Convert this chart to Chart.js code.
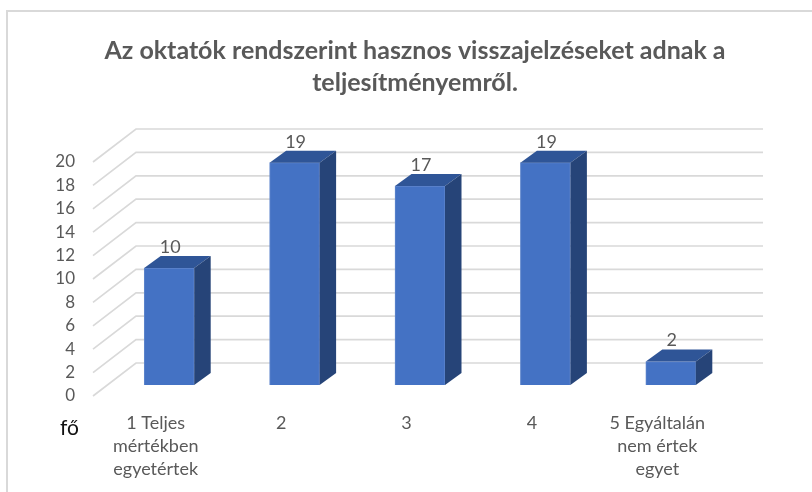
<!DOCTYPE html>
<html><head><meta charset="utf-8">
<style>html,body{margin:0;padding:0;background:#fff}#w{position:absolute;left:0;top:0;width:812px;height:492px}</style>
<script src="https://cdn.jsdelivr.net/npm/chart.js@4"></script>
</head><body><div id="w"><canvas id="c" width="812" height="492"></canvas></div>
<script>
const titleLines = ["Az oktatók rendszerint hasznos visszajelzéseket adnak a", "teljesítményemről."];
const categories = [["1 Teljes","mértékben","egyetértek"],"2","3","4",["5 Egyáltalán","nem értek","egyet"]];
const values = [10,19,17,19,2];
const yTicksMax = 20, yTicksStep = 2;
const unitLabel = "fő";
const depth = {wallX:43, wallY:33, barOffX:13.5, barOffY:11, barX:16.5, barY:12};
const wallRight = 763;
const grey = "#595959";
const font = "Lato, Carlito, 'Open Sans', sans-serif";

const threeD = {
  id:"threeD",
  beforeDraw(ch){
    const c=ch.ctx; c.save();
    c.strokeStyle="#d9d9d9"; c.lineWidth=2;
    c.beginPath(); c.moveTo(7,492); c.lineTo(7,11); c.lineTo(812,11); c.stroke();
    c.restore();
  },
  beforeDatasetsDraw(ch){
    const c=ch.ctx, y=ch.scales.y, L=ch.chartArea.left;
    c.save(); c.strokeStyle="#d9d9d9"; c.lineWidth=1.7;
    y.ticks.forEach(t=>{
      const p=y.getPixelForValue(t.value);
      c.beginPath(); c.moveTo(L,p); c.lineTo(L+depth.wallX,p-depth.wallY); c.lineTo(wallRight,p-depth.wallY); c.stroke();
    });
    c.restore();
    c.save(); c.translate(depth.barOffX,-depth.barOffY);
  },
  afterDatasetsDraw(ch){
    const c=ch.ctx, m=ch.getDatasetMeta(0);
    m.data.forEach((b,i)=>{
      const l=b.x-b.width/2, r=b.x+b.width/2, t=b.y, bs=b.base;
      c.fillStyle="#2F5597";
      c.beginPath(); c.moveTo(l,t); c.lineTo(l+depth.barX,t-depth.barY); c.lineTo(r+depth.barX,t-depth.barY); c.lineTo(r,t); c.closePath(); c.fill();
      c.fillStyle="#264478";
      c.beginPath(); c.moveTo(r,t); c.lineTo(r+depth.barX,t-depth.barY); c.lineTo(r+depth.barX,bs-depth.barY); c.lineTo(r,bs); c.closePath(); c.fill();
      c.fillStyle=grey; c.font="18px "+font; c.textAlign="center"; c.textBaseline="middle";
      c.fillText(String(values[i]), b.x+1, t-depth.barY-9);
    });
    c.restore();
    c.save(); c.fillStyle="#111"; c.font="21px "+font; c.textAlign="left"; c.textBaseline="middle";
    c.fillText(unitLabel, 60, 428); c.restore();
  }
};

new Chart(document.getElementById("c"),{
  type:"bar",
  data:{labels:categories,datasets:[{data:values,backgroundColor:"#4472C4",borderColor:"#5f86cc",borderWidth:1,barThickness:50}]},
  plugins:[threeD],
  options:{
    responsive:false,animation:false,
    layout:{padding:{left:18,right:0,top:0,bottom:0}},
    plugins:{legend:{display:false},tooltip:{enabled:false},
      title:{display:true,text:titleLines,color:grey,font:{family:font,size:25,weight:"bold",lineHeight:32/25},padding:{top:35,bottom:63}}},
    scales:{
      x:{grid:{display:false},border:{display:false},
         ticks:{color:grey,font:{family:font,size:18,lineHeight:23/18},maxRotation:0,minRotation:0,autoSkip:false,padding:8},
         afterFit(s){s.height=96;}},
      y:{min:0,max:yTicksMax,grid:{display:false},border:{display:false},
         ticks:{stepSize:yTicksStep,color:grey,font:{family:font,size:17},padding:10},
         afterFit(s){s.width=75;}},
      pad:{position:"right",display:true,grid:{display:false},border:{display:false},ticks:{display:false},afterFit(s){s.width=92;}}
    }
  }
});
</script></body></html>
